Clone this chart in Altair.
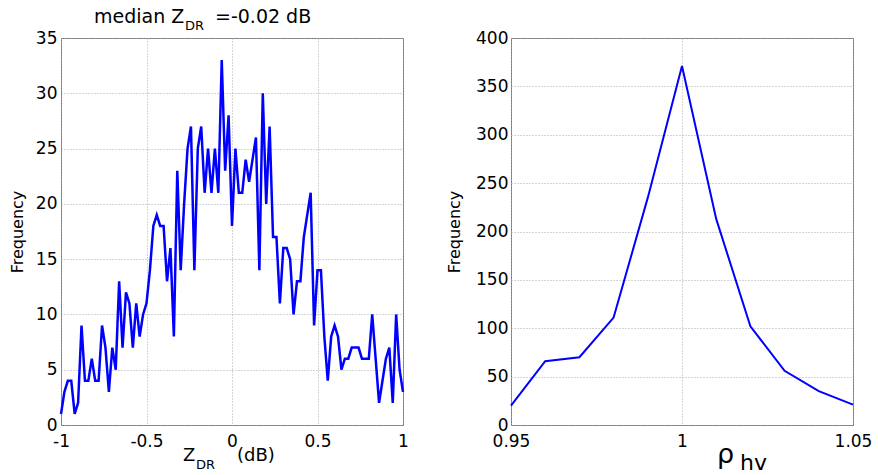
import altair as alt
import pandas as pd
import numpy as np

# ---------------- data ----------------
zdr_bins = [round(v, 2) for v in np.linspace(-1, 1, 101)]
zdr_freq = [1, 3, 4, 4, 1, 2, 9, 4, 4, 6,
            4, 4, 9, 7, 3, 7, 5, 13, 7, 12,
            11, 7, 11, 8, 10, 11, 14, 18, 19, 18,
            18, 13, 16, 8, 23, 14, 20, 25, 27, 14,
            25, 27, 21, 25, 21, 25, 21, 33, 23, 28,
            18, 25, 21, 21, 24, 22, 24, 26, 14, 30,
            20, 27, 17, 17, 11, 16, 16, 15, 10, 13,
            13, 17, 19, 21, 9, 14, 14, 8, 4, 8,
            9, 8, 5, 6, 6, 7, 7, 7, 6, 6,
            6, 10, 6, 2, 4, 6, 7, 2, 10, 5,
            3]
rho_bins = [0.95, 0.96, 0.97, 0.98, 0.99, 1.00, 1.01, 1.02, 1.03, 1.04, 1.05]
rho_freq = [20, 66, 70, 111, 235, 371, 213, 102, 56, 35, 21]

zdr_xticks = [-1, -0.5, 0, 0.5, 1]
zdr_yticks = [0, 5, 10, 15, 20, 25, 30, 35]
rho_xticks = [0.95, 1, 1.05]
rho_yticks = [0, 50, 100, 150, 200, 250, 300, 350, 400]

W, H = 342, 387
FONT = "DejaVu Sans"
BLUE = "#0000ff"

df_zdr = pd.DataFrame({"z": zdr_bins, "f": zdr_freq})
df_rho = pd.DataFrame({"r": rho_bins, "f": rho_freq})


def xaxis(values):
    return alt.Axis(values=values, grid=True, ticks=False, domain=False,
                    labelExpr="'' + datum.value", labelFlush=False,
                    labelOverlap=False, labelPadding=8, title=None)


def yaxis(values, pad, tpad):
    return alt.Axis(values=values, grid=True, ticks=False, domain=False,
                    labelExpr="'' + datum.value", labelOverlap=False,
                    labelPadding=pad, title="Frequency", titlePadding=tpad)


def label(text, x, y, size, align="left"):
    return alt.Chart(pd.DataFrame({"t": [text]})).mark_text(
        align=align, baseline="alphabetic", fontSize=size, font=FONT,
        color="black"
    ).encode(x=alt.value(x), y=alt.value(y), text="t:N")


left_line = alt.Chart(df_zdr).mark_line(color=BLUE, strokeWidth=2.5).encode(
    x=alt.X("z:Q", scale=alt.Scale(domain=[-1, 1], nice=False, zero=False),
            axis=xaxis(zdr_xticks)),
    y=alt.Y("f:Q", scale=alt.Scale(domain=[0, 35], nice=False),
            axis=yaxis(zdr_yticks, 4, 10)),
)

left = alt.layer(
    left_line,
    label("median Z", 33, -15, 19),
    label("DR", 124, -8, 13),
    label("=-0.02 dB", 154, -15, 19),
    label("Z", 122, 423, 18),
    label("DR", 135, 431, 13),
    label("(dB)", 176, 423, 18),
).properties(width=W, height=H)

right_line = alt.Chart(df_rho).mark_line(color=BLUE, strokeWidth=2).encode(
    x=alt.X("r:Q", scale=alt.Scale(domain=[0.95, 1.05], nice=False, zero=False),
            axis=xaxis(rho_xticks)),
    y=alt.Y("f:Q", scale=alt.Scale(domain=[0, 400], nice=False),
            axis=yaxis(rho_yticks, 3, 13)),
)

right = alt.layer(
    right_line,
    label("ρ", 206, 425, 27),
    label("hv", 229, 432, 22),
).properties(width=W, height=H)

chart = alt.hconcat(left, right, spacing=108, bounds="flush").properties(
    padding={"left": 8, "top": 7, "right": 0, "bottom": 0},
    background="white"
).configure_view(
    stroke="#777777", strokeWidth=1
).configure_axis(
    labelFont=FONT, labelFontSize=17, labelColor="black",
    titleFont=FONT, titleFontSize=16, titleFontWeight="normal", titleColor="black",
    gridColor="#aaaaaa", gridDash=[1, 2], gridWidth=1, gridOpacity=1
)

chart.save("out.html", embed_options={"renderer": "svg", "actions": False})
